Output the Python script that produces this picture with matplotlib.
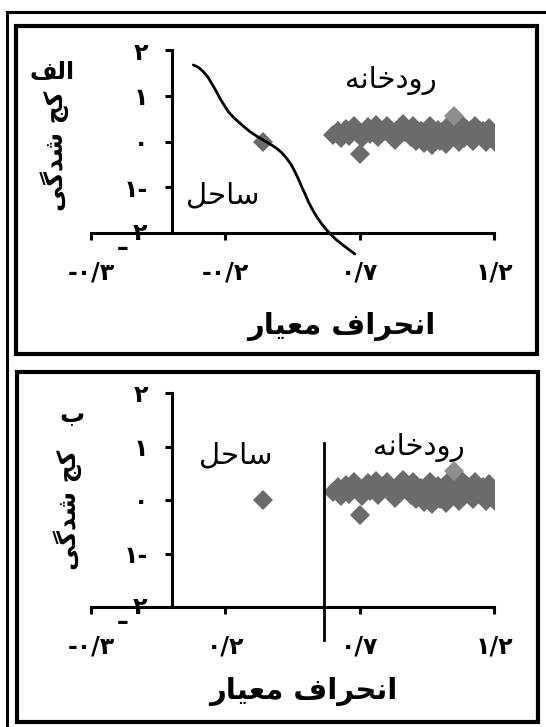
import matplotlib
matplotlib.use("Agg")
import matplotlib.pyplot as plt
from matplotlib.patches import Rectangle

W, H = 546, 727
plt.rcParams['font.family'] = ['DejaVu Sans']
plt.rcParams['font.weight'] = 'bold'

# --- data ---
x_ticks = [-0.3, 0.2, 0.7, 1.2]
x_labels_a = ['-۰/۳', '-۰/۲', '۰/۷', '۱/۲']
x_labels_b = ['-۰/۳', '۰/۲', '۰/۷', '۱/۲']
y_ticks = [-1, 0, 1, 2]
y_labels = ['۱-', '۰', '۱', '۲']

# river samples (std dev, skewness)
river_x = [0.60, 0.62, 0.63, 0.65, 0.66, 0.68, 0.69, 0.70, 0.71, 0.73, 0.74, 0.76,
           0.77, 0.79, 0.80, 0.82, 0.83, 0.85, 0.86, 0.87, 0.89, 0.90, 0.91, 0.93,
           0.94, 0.95, 0.96, 0.97, 0.98, 0.99, 1.00, 1.01, 1.02, 1.03, 1.04, 1.06,
           1.07, 1.08, 1.09, 1.10, 1.12, 1.13, 1.14, 1.16, 1.17, 1.18, 1.20, 1.21]
river_y = [0.15, 0.24, 0.08, 0.28, 0.12, 0.34, 0.18, -0.28, 0.08, 0.32, 0.16, 0.36,
           0.10, 0.24, 0.34, 0.16, 0.04, 0.28, 0.38, 0.20, 0.10, 0.34, 0.02, 0.22,
           -0.04, 0.14, 0.34, -0.08, 0.08, 0.26, 0.02, 0.18, -0.06, 0.34, 0.10, 0.22,
           -0.02, 0.36, 0.08, 0.26, 0.02, 0.34, 0.14, 0.24, -0.02, 0.30, 0.12, -0.06]
river_hi_x = [1.05]
river_hi_y = [0.55]

# beach sample
beach_x = [0.34]
beach_y = [0.0]

# separating curve (panel a) and separating line (panel b)
curve_x = [0.081, 0.100, 0.118, 0.135, 0.149, 0.165, 0.180, 0.196, 0.211, 0.230,
           0.248, 0.270, 0.292, 0.316, 0.341, 0.366, 0.391, 0.411, 0.428, 0.445,
           0.459, 0.472, 0.484, 0.497, 0.509, 0.524, 0.540, 0.558, 0.577, 0.596,
           0.614, 0.648, 0.682]
curve_y = [1.672, 1.620, 1.526, 1.410, 1.271, 1.110, 0.944, 0.790, 0.652, 0.530,
           0.433, 0.320, 0.214, 0.120, 0.033, -0.055, -0.149, -0.250, -0.367,
           -0.505, -0.660, -0.820, -0.988, -1.150, -1.316, -1.485, -1.644, -1.795,
           -1.934, -2.050, -2.153, -2.310, -2.459]
split_x = [0.567, 0.567]
split_y = [1.07, -2.62]

# Persian letters -> (isolated, final, initial, medial)
FORMS = {
    'ا': ('\uFE8D', '\uFE8E', None, None),
    'ب': ('\uFE8F', '\uFE90', '\uFE91', '\uFE92'),
    'ج': ('\uFE9D', '\uFE9E', '\uFE9F', '\uFEA0'),
    'ح': ('\uFEA1', '\uFEA2', '\uFEA3', '\uFEA4'),
    'خ': ('\uFEA5', '\uFEA6', '\uFEA7', '\uFEA8'),
    'د': ('\uFEA9', '\uFEAA', None, None),
    'ر': ('\uFEAD', '\uFEAE', None, None),
    'س': ('\uFEB1', '\uFEB2', '\uFEB3', '\uFEB4'),
    'ش': ('\uFEB5', '\uFEB6', '\uFEB7', '\uFEB8'),
    'ع': ('\uFEC9', '\uFECA', '\uFECB', '\uFECC'),
    'ف': ('\uFED1', '\uFED2', '\uFED3', '\uFED4'),
    'ل': ('\uFEDD', '\uFEDE', '\uFEDF', '\uFEE0'),
    'م': ('\uFEE1', '\uFEE2', '\uFEE3', '\uFEE4'),
    'ن': ('\uFEE5', '\uFEE6', '\uFEE7', '\uFEE8'),
    'ه': ('\uFEE9', '\uFEEA', '\uFEEB', '\uFEEC'),
    'و': ('\uFEED', '\uFEEE', None, None),
    'ک': ('\uFB8E', '\uFB8F', '\uFB90', '\uFB91'),
    'گ': ('\uFB92', '\uFB93', '\uFB94', '\uFB95'),
    'ی': ('\uFBFC', '\uFBFD', '\uFBFE', '\uFBFF'),
}


def fa(word):
    # join letters and flip to visual order (matplotlib has no bidi/shaping)
    out = []
    for i, ch in enumerate(word):
        if ch not in FORMS:
            out.append(ch)
            continue
        iso, fin, ini, med = FORMS[ch]
        prev = word[i - 1] if i > 0 else ''
        nxt = word[i + 1] if i + 1 < len(word) else ''
        join_prev = prev in FORMS and FORMS[prev][2] is not None
        join_next = nxt in FORMS and ini is not None
        if join_prev and join_next:
            out.append(med)
        elif join_prev:
            out.append(fin)
        elif join_next:
            out.append(ini)
        else:
            out.append(iso)
    return ''.join(reversed(out))


def px(x, y):
    return x / W, 1 - y / H


gray = '#6b6b6b'
fig = plt.figure(figsize=(W / 100, H / 100), dpi=100)

# frames
fig.add_artist(Rectangle(px(7, 760), 600 / W, 748 / H, transform=fig.transFigure,
                         fill=False, lw=2.2, ec='black'))
fig.add_artist(Rectangle(px(16, 354), 521 / W, 328 / H, transform=fig.transFigure,
                         fill=False, lw=3, ec='black'))
fig.add_artist(Rectangle(px(17, 722), 521 / W, 350 / H, transform=fig.transFigure,
                         fill=False, lw=3, ec='black'))


def make_axes(top, bottom, xlabels):
    left, right = 91, 494
    ax = fig.add_axes([left / W, 1 - bottom / H, (right - left) / W, (bottom - top) / H])
    ax.patch.set_visible(False)
    ax.set_xlim(-0.3, 1.2)
    ax.set_ylim(-2, 2)
    ax.spines['left'].set_position(('data', 0))
    ax.spines[['top', 'right']].set_visible(False)
    ax.spines[['left', 'bottom']].set_linewidth(2.2)
    ax.set_xticks(x_ticks, xlabels)
    ax.set_yticks(y_ticks, y_labels)
    ax.tick_params(axis='both', direction='out', length=5, width=2.2, labelsize=17)
    ax.tick_params(axis='x', pad=15)
    ax.tick_params(axis='y', pad=12)
    ax.plot(river_x, river_y, 'D', ls='none', ms=10, mew=0, color=gray)
    ax.plot(river_hi_x, river_hi_y, 'D', ls='none', ms=10, mew=0, color='#8e8e8e')
    ax.plot(beach_x, beach_y, 'D', ls='none', ms=10, mew=0, color=gray)
    # the -2 label sits on the x axis, its minus below it
    ax.annotate('۲', xy=(0, -2), xytext=(-23, 0), textcoords='offset points',
                ha='center', va='center', fontsize=17)
    ax.annotate('\u2013', xy=(0, -2), xytext=(-35, -11), textcoords='offset points',
                ha='center', va='center', fontsize=17)
    return ax


ax_a = make_axes(50, 233, x_labels_a)
ax_a.plot(curve_x, curve_y, color='black', lw=2, clip_on=False,
          solid_joinstyle='round', solid_capstyle='round')
ax_a.text(0.817, 1.34, fa('رودخانه'), ha='center', va='center', fontsize=21,
          fontweight='normal')
ax_a.text(0.191, -1.17, fa('ساحل'), ha='center', va='center', fontsize=21,
          fontweight='normal')

ax_b = make_axes(393, 607, x_labels_b)
ax_b.plot(split_x, split_y, color='black', lw=2, clip_on=False)
ax_b.text(0.92, 0.99, fa('رودخانه'), ha='center', va='center', fontsize=21,
          fontweight='normal')
ax_b.text(0.24, 0.84, fa('ساحل'), ha='center', va='center', fontsize=21,
          fontweight='normal')

# panel letters, axis titles
fig.text(*px(52, 72), fa('الف'), ha='center', va='center', fontsize=17)
fig.text(*px(55, 151), fa('کج شدگی'), ha='center', va='center', fontsize=18,
         rotation=90)
fig.text(*px(341, 327), fa('انحراف معیار'), ha='center', va='center', fontsize=21)

fig.text(*px(72, 415), fa('ب'), ha='center', va='center', fontsize=18)
fig.text(*px(68, 510), fa('کج شدگی'), ha='center', va='center', fontsize=18,
         rotation=90)
fig.text(*px(303, 691), fa('انحراف معیار'), ha='center', va='center', fontsize=21)

fig.savefig('out.png', dpi=100)
